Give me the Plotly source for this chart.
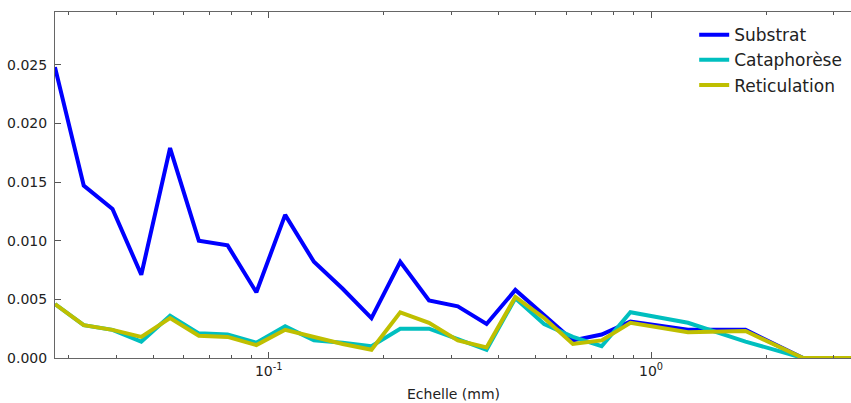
import plotly.graph_objects as go

# Scale values (mm)
echelle = [0.0276, 0.03282, 0.03903, 0.04642, 0.0552, 0.06564, 0.07806, 0.09283,
           0.1104, 0.13129, 0.15613, 0.18567, 0.2208, 0.26258, 0.31226, 0.37134,
           0.4416, 0.52515, 0.62452, 0.74268, 0.8832, 1.24903, 1.7664, 2.49806, 3.5328]

substrat = [0.0248, 0.0147, 0.0127, 0.0071, 0.0179, 0.0100, 0.0096, 0.0056,
            0.0122, 0.0082, 0.0059, 0.0034, 0.0082, 0.0049, 0.0044, 0.0029,
            0.0058, 0.0036, 0.0015, 0.0020, 0.0031, 0.0024, 0.0024, 0.0, 0.0]

cataphorese = [0.0046, 0.0028, 0.0024, 0.0014, 0.0036, 0.0021, 0.0020, 0.0013,
               0.0027, 0.0015, 0.0013, 0.0010, 0.0025, 0.0025, 0.0016, 0.0007,
               0.0051, 0.0029, 0.0018, 0.0010, 0.0039, 0.0030, 0.0014, 0.0, 0.0]

reticulation = [0.0046, 0.0028, 0.0024, 0.0018, 0.0034, 0.0019, 0.0018, 0.0011,
                0.0024, 0.0018, 0.0012, 0.0007, 0.0039, 0.0030, 0.0015, 0.0009,
                0.0052, 0.0034, 0.0012, 0.0015, 0.0030, 0.0022, 0.0023, 0.0, 0.0]

series = [("Substrat", substrat, "#0000ff"),
          ("Cataphorèse", cataphorese, "#00bfbf"),
          ("Reticulation", reticulation, "#bfbf00")]

x_major = [0.1, 1]
x_major_text = ["10<sup>-1</sup>", "10<sup>0</sup>"]
x_minor = [0.03, 0.04, 0.05, 0.06, 0.07, 0.08, 0.09,
           0.2, 0.3, 0.4, 0.5, 0.6, 0.7, 0.8, 0.9, 2, 3]
y_ticks = [0, 0.005, 0.010, 0.015, 0.020, 0.025]

fig = go.Figure()
for name, vals, col in series:
    fig.add_trace(go.Scatter(x=echelle, y=vals, mode="lines", name=name,
                             line=dict(color=col, width=4)))

W, H = 851, 403
ml, mt, mb = 55, 12, 45
fig.update_layout(
    width=W, height=H,
    margin=dict(l=ml, r=0, t=mt, b=mb, autoexpand=False),
    paper_bgcolor="white", plot_bgcolor="white",
    font=dict(family="DejaVu Sans", size=14, color="#222"),
    showlegend=True,
    legend=dict(x=0.803, y=0.985, xanchor="left", yanchor="top",
                font=dict(size=17), bgcolor="rgba(0,0,0,0)",
                tracegroupgap=0),
    xaxis=dict(type="log", range=[-1.559, 0.523], automargin=False,
               tickvals=x_major, ticktext=x_major_text,
               ticks="inside", ticklen=6, tickcolor="#555",
               showline=True, linecolor="#666", linewidth=1, mirror="allticks",
               showgrid=False, zeroline=False,
               minor=dict(tickvals=x_minor, ticks="inside", ticklen=3, tickcolor="#555")),
    yaxis=dict(range=[0, 0.0295], tickvals=y_ticks, tickformat=".3f", automargin=False,
               ticks="inside", ticklen=6, tickcolor="#555",
               showline=True, linecolor="#666", linewidth=1, mirror=False,
               showgrid=False, zeroline=False, ticklabelstandoff=4),
    annotations=[dict(text="Echelle (mm)", xref="paper", yref="paper",
                      x=0.5, y=-0.105, xanchor="center", yanchor="middle",
                      showarrow=False, font=dict(size=14))],
)

fig.write_html("out.html", config={"displayModeBar": False},
               post_script="document.body.style.margin='0';document.body.style.overflow='hidden';")
